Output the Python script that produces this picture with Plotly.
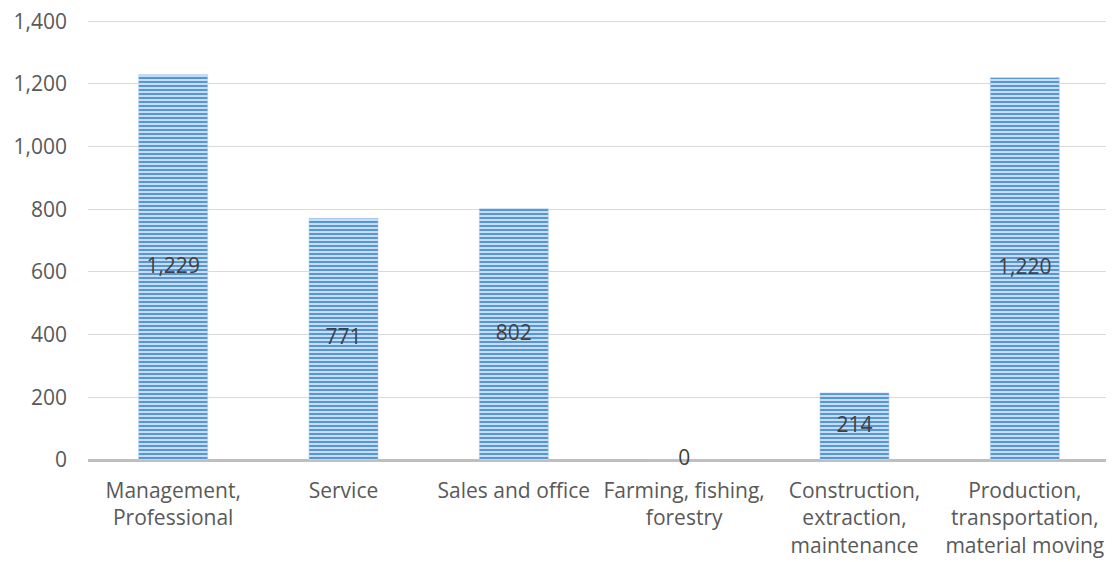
import plotly.graph_objects as go

categories = ["Management,<br>Professional", "Service", "Sales and office",
              "Farming, fishing,<br>forestry", "Construction,<br>extraction,<br>maintenance",
              "Production,<br>transportation,<br>material moving"]
values = [1229, 771, 802, 0, 214, 1220]
labels = [f"{v:,}" for v in values]
y_ticks = [0, 200, 400, 600, 800, 1000, 1200, 1400]

FONT = "Open Sans, Liberation Sans, sans-serif"

fig = go.Figure()
fig.add_trace(go.Bar(
    x=categories, y=values, width=0.405,
    marker=dict(color="#c9ddf2", line=dict(color="#a9c9ea", width=0.5),
                pattern=dict(shape="-", fgcolor="#5596d6", bgcolor="#c9ddf2",
                             size=4, solidity=0.5, fgopacity=1)),
    hoverinfo="skip",
))
fig.add_trace(go.Scatter(
    x=categories, y=[v / 2 for v in values], mode="text", text=labels,
    textfont=dict(family=FONT, size=21, color="#404040"),
    textposition="middle center", hoverinfo="skip", showlegend=False, cliponaxis=False,
))
fig.update_layout(
    width=1114, height=562, margin=dict(l=80, r=12, t=12, b=110),
    paper_bgcolor="white", plot_bgcolor="white", showlegend=False,
    font=dict(family=FONT, size=21, color="#595959"),
)
fig.update_xaxes(showgrid=False, showline=False, ticks="", tickfont=dict(size=21, color="#595959"),
                 zeroline=False, ticklabelstandoff=16, automargin=False)
fig.update_yaxes(range=[0, 1404], tickvals=y_ticks, tickformat=",", showgrid=True,
                 gridcolor="#d9d9d9", gridwidth=1, zeroline=True, zerolinecolor="#bfbfbf",
                 zerolinewidth=3, showline=False, ticks="", ticklabelstandoff=20,
                 ticklabeloverflow="allow",
                 tickfont=dict(size=21, color="#595959"), automargin=False)
fig.write_html("out.html")
